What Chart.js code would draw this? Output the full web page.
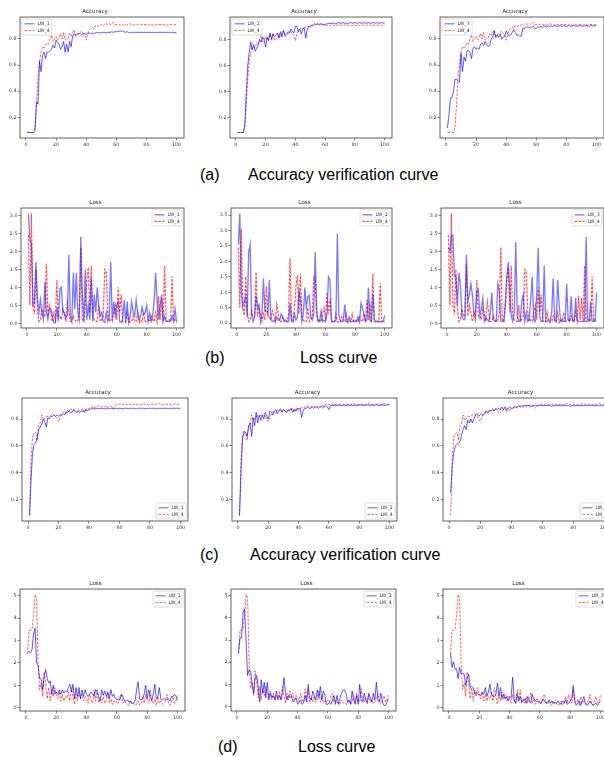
<!DOCTYPE html>
<html><head><meta charset="utf-8">
<script src="https://cdn.jsdelivr.net/npm/chart.js@4.4.1/dist/chart.umd.min.js"></script>
<style>
html,body{margin:0;padding:0;background:#fff;}
body{width:604px;height:757px;overflow:hidden;position:relative;}
.cv{position:absolute;}
.cap{position:absolute;font-family:"Liberation Sans",Arial,sans-serif;font-size:16px;color:#000;white-space:nowrap;line-height:16px;}
</style></head><body>
<div class="cap" style="left:200px;top:167px">(a)</div>
<div class="cap" style="left:248px;top:167px">Accuracy verification curve</div>
<div class="cap" style="left:205px;top:350px">(b)</div>
<div class="cap" style="left:300px;top:350px">Loss curve</div>
<div class="cap" style="left:200px;top:547px">(c)</div>
<div class="cap" style="left:250px;top:547px">Accuracy verification curve</div>
<div class="cap" style="left:218px;top:739px">(d)</div>
<div class="cap" style="left:298px;top:739px">Loss curve</div>
<script>
const epochs = Array.from({length:100},(_,i)=>i+1);
const xTicks = [0,20,40,60,80,100];
const accTicks = [0.2,0.4,0.6,0.8];
const lossTicks3 = [0,0.5,1,1.5,2,2.5,3];
const lossTicks35 = [0,0.5,1,1.5,2,2.5,3,3.5];
const lossTicks5 = [0,1,2,3,4,5];

// (a) accuracy
const accA_LW4 = [0.085,0.085,0.085,0.085,0.085,0.12,0.3,0.5,0.62,0.7, 0.74,0.73,0.75,0.77,0.76,0.8,0.83,0.78,0.8,0.82, 0.79,0.81,0.84,0.8,0.85,0.79,0.8,0.81,0.84,0.82, 0.85,0.87,0.82,0.83,0.84,0.85,0.86,0.84,0.83,0.79, 0.84,0.87,0.88,0.89,0.88,0.9,0.89,0.9,0.9,0.91, 0.9,0.91,0.92,0.91,0.92,0.91,0.92,0.925,0.91,0.91, 0.905,0.91,0.905,0.91,0.905,0.91,0.905,0.91,0.915,0.91, 0.91,0.905,0.91,0.91,0.905,0.91,0.91,0.905,0.91,0.91, 0.905,0.91,0.91,0.905,0.91,0.91,0.905,0.91,0.91,0.91, 0.905,0.91,0.91,0.905,0.91,0.91,0.91,0.905,0.91,0.91];
const accA_LW1 = [0.085,0.085,0.085,0.085,0.085,0.1,0.32,0.3,0.63,0.55, 0.67,0.7,0.65,0.7,0.7,0.71,0.72,0.75,0.73,0.79, 0.77,0.76,0.72,0.74,0.78,0.7,0.76,0.7,0.78,0.74, 0.82,0.84,0.83,0.84,0.84,0.84,0.83,0.84,0.84,0.835, 0.84,0.845,0.84,0.845,0.84,0.845,0.85,0.845,0.85,0.845, 0.85,0.85,0.845,0.85,0.85,0.85,0.855,0.85,0.855,0.855, 0.855,0.86,0.86,0.86,0.855,0.85,0.855,0.85,0.845,0.85, 0.85,0.85,0.85,0.85,0.85,0.85,0.85,0.85,0.85,0.85, 0.85,0.85,0.85,0.85,0.85,0.85,0.85,0.85,0.85,0.85, 0.85,0.85,0.85,0.85,0.85,0.85,0.85,0.85,0.848,0.845];
const accA_LW2 = [0.085,0.085,0.085,0.085,0.085,0.15,0.4,0.6,0.7,0.78, 0.72,0.76,0.71,0.73,0.76,0.8,0.78,0.82,0.8,0.74, 0.82,0.79,0.85,0.8,0.84,0.82,0.83,0.85,0.81,0.86, 0.82,0.87,0.83,0.84,0.86,0.85,0.88,0.86,0.85,0.9, 0.9,0.86,0.88,0.84,0.88,0.89,0.81,0.88,0.9,0.9, 0.91,0.91,0.92,0.915,0.92,0.915,0.92,0.915,0.91,0.915, 0.92,0.92,0.925,0.92,0.925,0.925,0.92,0.925,0.93,0.925, 0.925,0.93,0.925,0.925,0.92,0.925,0.93,0.925,0.925,0.93, 0.925,0.925,0.93,0.925,0.925,0.93,0.925,0.925,0.93,0.925, 0.925,0.93,0.925,0.925,0.93,0.925,0.925,0.93,0.925,0.925];
const accA_LW3 = [0.12,0.22,0.35,0.35,0.4,0.49,0.49,0.48,0.47,0.69, 0.55,0.66,0.63,0.71,0.71,0.7,0.65,0.73,0.74,0.72, 0.73,0.72,0.76,0.77,0.75,0.78,0.76,0.74,0.75,0.8, 0.81,0.86,0.81,0.83,0.81,0.84,0.8,0.81,0.82,0.86, 0.84,0.82,0.83,0.85,0.87,0.85,0.83,0.83,0.82,0.82, 0.88,0.88,0.89,0.89,0.89,0.88,0.89,0.9,0.88,0.88, 0.89,0.89,0.895,0.89,0.9,0.895,0.89,0.9,0.895,0.9, 0.895,0.9,0.9,0.895,0.9,0.9,0.895,0.9,0.9,0.895, 0.9,0.9,0.895,0.9,0.9,0.9,0.895,0.9,0.9,0.9, 0.895,0.9,0.9,0.9,0.895,0.9,0.9,0.9,0.9,0.9];

// (b) loss
const lossB_LW4 = [2.45,0.5,3.05,0.5,0.25,1.5,0.4,0.05,0.1,0.4, 0.2,0.2,1.65,0.2,0.5,0.3,0.05,0.3,0.1,1.2, 0.2,0.2,0.1,0.4,0.25,0.05,0.6,0.3,0.05,0.05, 0.2,0.1,0.05,0.05,0.3,2.1,0.1,0.05,0.5,1.2, 1.55,0.3,1.6,0.2,0.1,0.05,0.05,0.5,0.05,0.1, 0.2,1.5,1.45,0.3,0.05,0.1,0.05,0.3,0.5,0.1, 1.0,0.3,0.8,0.05,0.02,0.05,0.3,0.05,0.02,0.05, 0.2,0.05,0.05,0.3,0.02,0.1,0.05,0.3,0.05,0.05, 0.1,0.05,0.2,0.1,0.05,0.3,0.05,0.75,0.1,0.7, 0.05,1.6,0.05,0.05,0.1,0.05,1.3,0.05,0.1,0.05];
const lossB_LW1 = [3.05,2.3,2.2,0.5,0.55,1.7,0.7,0.3,0.65,0.3, 0.1,1.15,0.3,0.1,0.4,0.4,0.2,0.02,0.02,0.45, 0.05,0.95,1.0,0.3,0.3,0.15,0.2,1.9,0.2,0.05, 1.4,0.4,1.4,0.3,0.1,2.4,0.8,0.05,1.5,0.1, 0.5,0.1,1.25,0.05,0.8,0.3,1.0,0.5,0.2,0.3, 0.05,0.02,0.3,0.05,0.15,1.7,0.1,0.6,0.2,0.5, 0.6,0.05,0.02,0.1,0.65,0.02,0.6,0.02,0.2,0.6, 0.3,0.2,0.65,0.3,0.1,0.2,0.45,0.25,0.3,0.5, 0.05,0.3,0.05,0.2,0.6,1.4,0.6,0.1,0.5,0.8, 0.05,0.2,0.05,0.05,0.05,0.05,0.2,0.05,0.4,0.02];
const lossB_LW2 = [2.55,3.55,1.0,0.55,0.7,0.85,0.2,2.3,2.55,0.3, 0.05,0.2,0.9,0.5,0.6,0.05,0.3,1.45,0.4,0.4, 0.3,1.4,0.1,0.05,0.1,0.05,0.2,0.1,0.1,0.3, 0.2,0.05,0.1,0.05,0.05,0.65,0.05,0.05,0.3,0.1, 0.2,1.05,0.8,0.05,0.3,1.15,0.5,0.85,0.9,0.2, 0.1,0.3,2.3,0.4,0.05,0.05,0.4,0.05,0.1,0.05, 0.3,1.5,1.4,0.1,0.05,0.05,0.1,2.9,0.3,0.05, 0.05,0.1,0.6,0.05,0.05,0.2,0.05,0.05,0.1,0.05, 0.05,0.2,0.05,0.65,0.5,0.3,0.05,0.1,1.15,0.1, 0.05,0.95,0.1,0.05,0.05,0.05,0.05,0.05,0.05,0.25];
const lossB_LW3 = [2.1,2.0,2.45,2.45,1.3,1.3,0.5,1.4,1.1,0.2, 0.1,0.1,1.9,0.6,0.8,1.1,0.8,0.3,0.2,0.9, 0.95,0.2,0.4,0.7,0.05,0.15,0.1,0.05,0.3,0.85, 0.1,0.05,0.05,1.1,0.9,0.05,0.05,0.05,0.5,1.3, 1.7,0.9,0.2,0.05,0.3,2.25,0.2,0.05,0.05,0.6, 0.8,0.05,0.3,0.05,0.1,0.7,1.3,0.1,0.05,0.8, 2.1,0.2,0.05,0.05,1.6,0.05,0.05,0.1,0.05,0.3, 1.25,0.1,0.05,1.2,0.5,0.05,0.1,0.05,0.05,1.1, 0.1,0.05,0.75,0.05,0.05,0.7,0.1,0.05,0.05,0.05, 0.05,0.05,2.4,0.1,0.05,0.6,0.05,0.05,0.05,0.85];

// (c) accuracy
const accC_LW4 = [0.08,0.5,0.67,0.69,0.7,0.64,0.75,0.77,0.83,0.79, 0.8,0.82,0.82,0.82,0.83,0.84,0.83,0.82,0.8,0.78, 0.81,0.84,0.85,0.86,0.84,0.87,0.86,0.88,0.86,0.87, 0.86,0.85,0.87,0.86,0.87,0.88,0.85,0.88,0.86,0.88, 0.88,0.89,0.88,0.89,0.89,0.9,0.89,0.89,0.9,0.89, 0.9,0.89,0.89,0.9,0.89,0.88,0.9,0.91,0.91,0.91, 0.905,0.91,0.905,0.91,0.905,0.91,0.91,0.905,0.91,0.91, 0.905,0.91,0.91,0.905,0.91,0.915,0.91,0.91,0.905,0.91, 0.91,0.91,0.905,0.91,0.91,0.915,0.91,0.91,0.905,0.91, 0.91,0.91,0.91,0.905,0.91,0.91,0.915,0.91,0.91,0.91];
const accC_LW1 = [0.08,0.35,0.55,0.61,0.62,0.66,0.72,0.74,0.76,0.8, 0.78,0.74,0.81,0.8,0.82,0.82,0.83,0.82,0.83,0.82, 0.83,0.83,0.84,0.83,0.85,0.85,0.86,0.85,0.85,0.87, 0.86,0.85,0.86,0.85,0.86,0.86,0.85,0.87,0.86,0.87, 0.875,0.875,0.88,0.875,0.88,0.88,0.875,0.88,0.88,0.875, 0.88,0.88,0.875,0.88,0.88,0.875,0.88,0.88,0.875,0.88, 0.88,0.875,0.88,0.88,0.88,0.875,0.88,0.88,0.88,0.88, 0.875,0.88,0.88,0.88,0.88,0.88,0.875,0.88,0.88,0.88, 0.88,0.88,0.88,0.875,0.88,0.88,0.88,0.88,0.88,0.88, 0.88,0.875,0.88,0.88,0.88,0.88,0.88,0.88,0.88,0.88];
const accC_LW2 = [0.08,0.4,0.65,0.71,0.7,0.67,0.74,0.77,0.67,0.81, 0.75,0.85,0.77,0.83,0.79,0.83,0.8,0.85,0.82,0.8, 0.86,0.85,0.83,0.86,0.87,0.84,0.86,0.87,0.85,0.87, 0.86,0.85,0.87,0.86,0.88,0.85,0.87,0.86,0.88,0.87, 0.88,0.81,0.86,0.88,0.88,0.89,0.88,0.88,0.89,0.88, 0.89,0.89,0.88,0.89,0.89,0.9,0.89,0.9,0.89,0.87, 0.9,0.9,0.9,0.905,0.9,0.9,0.905,0.9,0.9,0.905, 0.9,0.9,0.905,0.9,0.905,0.9,0.9,0.905,0.9,0.905, 0.905,0.9,0.905,0.9,0.905,0.905,0.9,0.905,0.905,0.9, 0.905,0.905,0.9,0.905,0.905,0.905,0.9,0.905,0.905,0.905];
const accC_LW3 = [0.25,0.45,0.55,0.6,0.61,0.62,0.63,0.68,0.72,0.75, 0.72,0.79,0.77,0.8,0.77,0.8,0.83,0.84,0.82,0.83, 0.84,0.83,0.84,0.86,0.85,0.86,0.86,0.87,0.86,0.88, 0.87,0.88,0.87,0.89,0.87,0.89,0.87,0.88,0.89,0.88, 0.88,0.89,0.89,0.89,0.9,0.89,0.9,0.9,0.9,0.9, 0.9,0.9,0.895,0.9,0.9,0.9,0.9,0.9,0.9,0.9, 0.9,0.9,0.9,0.9,0.9,0.895,0.9,0.9,0.9,0.9, 0.9,0.9,0.9,0.9,0.9,0.9,0.9,0.895,0.9,0.9, 0.9,0.9,0.9,0.9,0.9,0.9,0.9,0.9,0.9,0.9, 0.9,0.9,0.9,0.9,0.9,0.9,0.9,0.9,0.9,0.9];

// (d) loss
const lossD_LW4 = [2.4,3.45,3.45,3.5,4.1,5.05,4.9,2.0,0.8,1.1, 0.5,1.6,1.1,0.4,0.9,0.3,0.8,0.5,0.9,0.6, 0.4,0.7,0.3,0.6,0.3,0.5,0.4,0.7,0.3,0.9, 0.5,0.15,0.6,0.3,0.7,0.4,0.6,0.3,0.5,0.4, 0.2,0.6,0.3,0.2,0.8,0.3,0.8,0.2,0.4,0.2, 0.5,0.2,0.3,0.7,0.2,0.4,0.15,0.3,0.2,0.3, 0.2,0.5,0.6,0.2,0.3,0.2,0.15,0.1,0.3,0.15, 0.2,0.1,0.15,0.3,0.1,0.2,0.5,0.2,0.6,0.3, 0.2,0.8,0.3,0.2,0.4,0.1,0.5,0.2,0.3,0.15, 0.2,0.3,0.6,0.2,0.1,0.3,0.5,0.2,0.3,0.55];
const lossD_LW1 = [2.5,2.5,2.45,2.6,3.3,3.55,2.0,1.9,1.3,1.3, 0.8,1.4,1.7,1.3,1.1,1.2,0.6,1.0,0.6,0.7, 0.6,0.8,0.6,0.8,0.65,0.75,0.7,0.9,1.05,0.7, 1.05,0.4,0.9,0.5,0.9,0.4,0.8,0.5,0.8,0.6, 0.5,0.6,0.7,0.6,0.5,0.8,0.7,0.5,0.3,0.8, 0.55,0.75,0.5,0.7,0.4,0.8,0.5,0.6,0.4,0.35, 0.4,0.35,0.6,0.5,0.3,0.3,0.35,0.25,0.3,0.2, 0.2,0.3,0.8,1.15,0.4,0.35,0.4,0.6,1.0,0.4, 0.8,0.5,0.3,0.6,1.05,0.4,0.5,0.9,0.4,0.35, 0.4,0.35,0.35,0.4,0.3,0.5,0.5,0.6,0.5,0.35];
const lossD_LW2 = [2.4,3.1,3.1,4.25,4.4,3.0,1.4,1.65,1.6,1.0, 0.6,1.3,1.4,0.9,0.2,1.2,0.6,1.1,0.4,1.1, 0.3,0.6,0.4,0.5,0.3,0.7,0.3,0.5,0.3,0.6, 1.3,0.6,0.3,0.5,0.4,0.5,0.2,0.3,0.4,0.1, 0.2,0.3,0.1,0.2,0.5,0.2,1.0,0.4,0.3,0.7, 0.5,0.3,0.75,0.4,0.9,0.3,0.7,0.5,0.1,0.1, 0.2,0.1,0.3,0.5,0.1,0.5,0.1,0.4,0.6,0.75, 0.75,0.6,0.2,0.3,0.1,0.7,0.3,0.1,0.5,0.1, 1.0,0.3,0.2,0.6,0.3,0.2,0.6,0.4,0.2,0.6, 0.3,1.1,0.3,0.2,0.6,0.2,0.05,0.05,0.2,0.35];
const lossD_LW3 = [2.4,1.8,2.05,1.7,1.75,1.3,1.8,1.5,1.55,1.5, 1.0,1.3,1.5,0.9,0.95,0.9,0.6,0.7,0.6,0.6, 0.55,0.7,0.6,0.9,0.5,0.7,1.05,0.6,0.5,0.5, 0.6,1.1,0.5,0.9,0.4,0.6,0.4,0.5,0.3,0.5, 0.45,1.35,0.4,0.2,0.6,0.3,0.5,0.25,0.3,0.4, 0.2,0.5,0.3,0.2,0.6,0.4,0.3,0.4,0.3,0.2, 0.2,0.4,0.3,0.2,0.2,0.35,0.2,0.3,0.2,0.25, 0.2,0.3,0.2,0.15,0.3,0.2,0.35,0.15,0.2,0.3, 0.4,1.0,0.3,0.1,0.2,0.3,0.1,0.3,0.5,0.2, 0.1,0.15,0.3,0.2,0.1,0.15,0.2,0.1,0.2,0.3];

const panels = [
  {L:20, T:17, R:184,B:138, title:'Accuracy', n:'LW_1', s:accA_LW1, b:accA_LW4, ticks:accTicks, dec:1, leg:'ul', thick:false},
  {L:230,T:17, R:392,B:138, title:'Accuracy', n:'LW_2', s:accA_LW2, b:accA_LW4, ticks:accTicks, dec:1, leg:'ul', thick:false},
  {L:440,T:17, R:604,B:138, title:'Accuracy', n:'LW_3', s:accA_LW3, b:accA_LW4, ticks:accTicks, dec:1, leg:'ul', thick:false},
  {L:21, T:208,R:184,B:328, title:'Loss', n:'LW_1', s:lossB_LW1, b:lossB_LW4, ticks:lossTicks3, dec:1, leg:'ur', thick:true},
  {L:231,T:208,R:392,B:328, title:'Loss', n:'LW_2', s:lossB_LW2, b:lossB_LW4, ticks:lossTicks35, dec:1, leg:'ur', thick:true},
  {L:441,T:208,R:604,B:328, title:'Loss', n:'LW_3', s:lossB_LW3, b:lossB_LW4, ticks:lossTicks3, dec:1, leg:'ur', thick:true},
  {L:22, T:398,R:188,B:521, title:'Accuracy', n:'LW_1', s:accC_LW1, b:accC_LW4, ticks:accTicks, dec:1, leg:'lr', thick:false},
  {L:232,T:398,R:397,B:521, title:'Accuracy', n:'LW_2', s:accC_LW2, b:accC_LW4, ticks:accTicks, dec:1, leg:'lr', thick:false},
  {L:443,T:398,R:612,B:521, title:'Accuracy', n:'LW_3', s:accC_LW3, b:accC_LW4, ticks:accTicks, dec:1, leg:'lr', thick:false},
  {L:20, T:589,R:185,B:711, title:'Loss', n:'LW_1', s:lossD_LW1, b:lossD_LW4, ticks:lossTicks5, dec:0, leg:'ur', thick:false},
  {L:231,T:589,R:396,B:711, title:'Loss', n:'LW_2', s:lossD_LW2, b:lossD_LW4, ticks:lossTicks5, dec:0, leg:'ur', thick:false},
  {L:443,T:589,R:608,B:711, title:'Loss', n:'LW_3', s:lossD_LW3, b:lossD_LW4, ticks:lossTicks5, dec:0, leg:'ur', thick:false}
];

const FONT = '"DejaVu Sans", sans-serif';
const framePlugin = {
  id:'frame',
  afterDatasetsDraw(chart){
    const a = chart.chartArea, ctx = chart.ctx;
    ctx.save();
    ctx.strokeStyle = '#3a3a3a'; ctx.lineWidth = 0.8;
    ctx.strokeRect(a.left, a.top, a.right - a.left, a.bottom - a.top);
    ctx.restore();
  }
};
function makeLegend(pos){
  return {
    id:'boxLegend',
    afterDatasetsDraw(chart){
      const a = chart.chartArea, ctx = chart.ctx;
      const w = 30, h = 16, m = 2;
      const x = pos[1] === 'l' ? a.left + m : a.right - m - w;
      const y = pos[0] === 'u' ? a.top + m : a.bottom - m - h;
      ctx.save();
      ctx.beginPath();
      if (ctx.roundRect) ctx.roundRect(x, y, w, h, 1.5); else ctx.rect(x, y, w, h);
      ctx.fillStyle = 'rgba(255,255,255,0.85)'; ctx.fill();
      ctx.strokeStyle = '#cfcfcf'; ctx.lineWidth = 0.7; ctx.stroke();
      chart.data.datasets.forEach((ds, i) => {
        const ly = y + 4.8 + i * 6.6;
        ctx.beginPath();
        ctx.strokeStyle = ds.borderColor; ctx.lineWidth = ds.borderWidth;
        ctx.setLineDash(ds.borderDash || []);
        ctx.moveTo(x + 2.5, ly); ctx.lineTo(x + 12.5, ly); ctx.stroke();
        ctx.setLineDash([]);
        ctx.fillStyle = '#333'; ctx.font = '4.7px ' + FONT; ctx.textBaseline = 'middle'; ctx.textAlign = 'left';
        ctx.fillText(ds.label, x + 15.5, ly);
      });
      ctx.restore();
    }
  };
}
function bounds(a, b){
  const all = a.concat(b);
  const mn = Math.min(...all), mx = Math.max(...all), m = (mx - mn) * 0.05;
  return [mn - m, mx + m];
}
const yW = 14, xH = 10, titleH = 10, padR = 14;
panels.forEach(p => {
  const cv = document.createElement('canvas');
  const w = (p.R - p.L) + yW + padR, h = (p.B - p.T) + titleH + xH;
  cv.width = w; cv.height = h; cv.className = 'cv';
  cv.style.left = (p.L - yW) + 'px'; cv.style.top = (p.T - titleH) + 'px';
  cv.style.width = w + 'px'; cv.style.height = h + 'px';
  document.body.appendChild(cv);
  const [ymin, ymax] = bounds(p.s, p.b);
  const tickStyle = {font:{family:FONT, size:4.8}, color:'#333', padding:1, maxRotation:0, autoSkip:false};
  const gridStyle = {display:true, drawOnChartArea:false, drawTicks:true, tickLength:2.5, color:'#333', lineWidth:0.6};
  new Chart(cv, {
    type:'line',
    data:{datasets:[
      {label:p.n, data:p.s.map((v,i)=>({x:epochs[i], y:v})),
       borderColor: p.thick ? 'rgba(30,30,255,0.6)' : 'rgba(0,0,255,0.72)', borderWidth: p.thick ? 1.3 : 0.9},
      {label:'LW_4', data:p.b.map((v,i)=>({x:epochs[i], y:v})),
       borderColor: 'rgba(255,0,0,0.7)', borderWidth: p.thick ? 1.2 : 0.9, borderDash:[2.6,1.3]}
    ]},
    options:{
      responsive:false, animation:false, devicePixelRatio:1,
      layout:{padding:{left:0, right:padR, top:0, bottom:0}},
      elements:{point:{radius:0}, line:{tension:0}},
      plugins:{
        legend:{display:false}, tooltip:{enabled:false},
        title:{display:true, text:p.title, color:'#222', font:{family:FONT, size:5.6, weight:'normal', lineHeight:1.2}, padding:{top:1, bottom:2.3}}
      },
      scales:{
        x:{type:'linear', min:1-4.95, max:100+4.95,
           afterFit(s){ s.height = xH; },
           afterBuildTicks(s){ s.ticks = xTicks.map(v=>({value:v})); },
           grid:gridStyle, border:{display:false},
           ticks:Object.assign({}, tickStyle, {callback:v=>String(v)})},
        y:{type:'linear', min:ymin, max:ymax,
           afterFit(s){ s.width = yW; },
           afterBuildTicks(s){ s.ticks = p.ticks.map(v=>({value:v})); },
           grid:gridStyle, border:{display:false},
           ticks:Object.assign({}, tickStyle, {callback:v=>Number(v).toFixed(p.dec)})}
      }
    },
    plugins:[framePlugin, makeLegend(p.leg)]
  });
});
</script>
</body></html>
